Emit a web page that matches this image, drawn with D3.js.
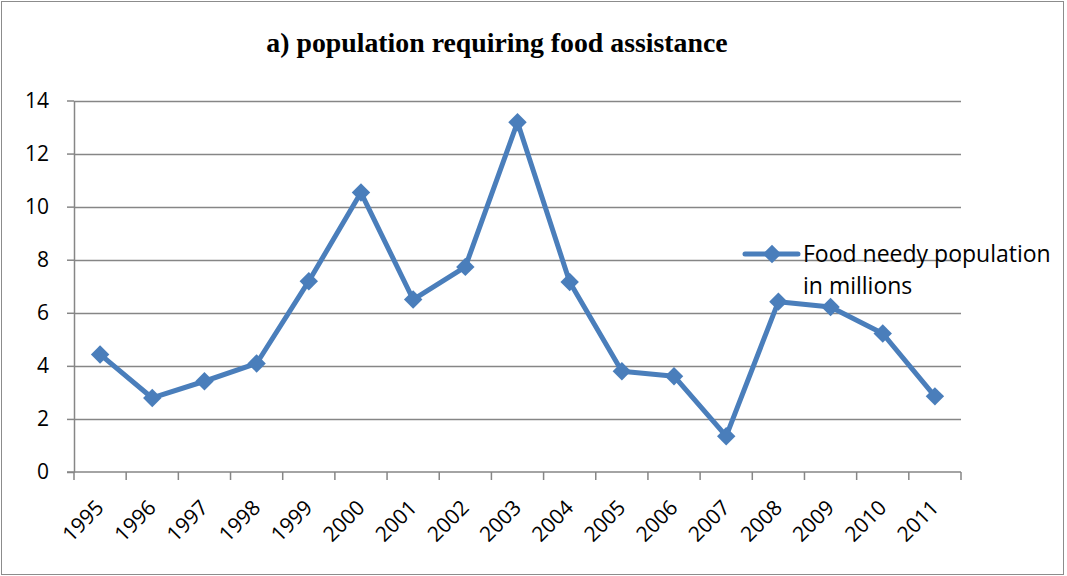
<!DOCTYPE html>
<html>
<head>
<meta charset="utf-8">
<script src="https://cdn.jsdelivr.net/npm/d3@7"></script>
<style>
  html, body { margin: 0; padding: 0; background: #fff; }
  svg { display: block; }
</style>
</head>
<body>
<svg id="chart" width="1067" height="576"></svg>
<script>
// Food needy population, millions, by year
const years = ["1995","1996","1997","1998","1999","2000","2001","2002","2003",
               "2004","2005","2006","2007","2008","2009","2010","2011"];
const needy = [4.43, 2.79, 3.42, 4.09, 7.19, 10.53, 6.50, 7.73, 13.18,
               7.16, 3.80, 3.61, 1.35, 6.42, 6.22, 5.22, 2.85];
const yTicks = [0, 2, 4, 6, 8, 10, 12, 14];
const seriesName = ["Food needy population", "in millions"];
const titleText = "a) population requiring food assistance";

const svg = d3.select("#chart");
const W = 1067, H = 576;
const plot = { left: 74, right: 961, top: 100.5, bottom: 472 };
const blue = "#4A7EBB";
const axisGray = "#868686";
const labelFont = "'Open Sans', Lato, sans-serif";

// outer frame
svg.append("rect")
  .attr("x", 1.5).attr("y", 1.5)
  .attr("width", W - 5).attr("height", H - 3)
  .attr("fill", "#fff").attr("stroke", "#8c8c8c").attr("stroke-width", 1);

const x = d3.scaleBand().domain(years).range([plot.left, plot.right]);
const y = d3.scaleLinear().domain([0, 14]).range([plot.bottom, plot.top]);

// horizontal gridlines
svg.append("g")
  .selectAll("line")
  .data(yTicks.filter(d => d > 0))
  .join("line")
  .attr("x1", plot.left).attr("x2", plot.right)
  .attr("y1", d => Math.round(y(d)) + 0.5).attr("y2", d => Math.round(y(d)) + 0.5)
  .attr("stroke", axisGray).attr("stroke-width", 1.5);

// y axis
const yAxis = svg.append("g")
  .attr("transform", `translate(${plot.left},0)`)
  .call(d3.axisLeft(y).tickValues(yTicks).tickSize(7).tickPadding(18).tickSizeOuter(0));
yAxis.select(".domain").attr("stroke", axisGray).attr("stroke-width", 1.5);
yAxis.selectAll(".tick line").attr("stroke", axisGray).attr("stroke-width", 1.5);
yAxis.selectAll(".tick text")
  .attr("fill", "#000").style("font-family", labelFont).style("font-size", "21px");

// x axis with ticks at category boundaries
const xAxisG = svg.append("g").attr("transform", `translate(0,${plot.bottom})`);
xAxisG.append("line")
  .attr("x1", plot.left - 7).attr("x2", plot.right)
  .attr("y1", 0).attr("y2", 0)
  .attr("stroke", axisGray).attr("stroke-width", 1.5);
const bounds = years.map(d => x(d)).concat([plot.right]);
xAxisG.selectAll("line.tk")
  .data(bounds)
  .join("line").attr("class", "tk")
  .attr("x1", d => d).attr("x2", d => d)
  .attr("y1", 0).attr("y2", 8)
  .attr("stroke", axisGray).attr("stroke-width", 1.5);
xAxisG.selectAll("text")
  .data(years)
  .join("text")
  .attr("transform", d => `translate(${x(d) + x.bandwidth() / 2 + 5},${37}) rotate(-45)`)
  .attr("text-anchor", "end")
  .style("font-family", labelFont).style("font-size", "21px")
  .attr("fill", "#000")
  .text(d => d);

// series line
const line = d3.line()
  .x((d, i) => x(years[i]) + x.bandwidth() / 2)
  .y(d => y(d));
svg.append("path")
  .datum(needy)
  .attr("d", line)
  .attr("fill", "none").attr("stroke", blue)
  .attr("stroke-width", 5).attr("stroke-linejoin", "round");

// diamond markers
const diamond = d3.symbol().type(d3.symbolSquare).size(170);
svg.append("g")
  .selectAll("path")
  .data(needy)
  .join("path")
  .attr("d", diamond)
  .attr("transform", (d, i) => `translate(${x(years[i]) + x.bandwidth() / 2},${y(d)}) rotate(45)`)
  .attr("fill", blue);

// legend
const lg = svg.append("g").attr("transform", "translate(745,254)");
lg.append("line").attr("x1", 0).attr("x2", 53).attr("y1", 0).attr("y2", 0)
  .attr("stroke", blue).attr("stroke-width", 5).attr("stroke-linecap", "round");
lg.append("path").attr("d", diamond).attr("transform", "translate(27,0) rotate(45)").attr("fill", blue);
lg.selectAll("text")
  .data(seriesName)
  .join("text")
  .attr("x", 58).attr("y", (d, i) => 8 + i * 31.5)
  .style("font-family", labelFont).style("font-size", "23px")
  .attr("fill", "#000")
  .text(d => d);

// title
svg.append("text")
  .attr("x", 497).attr("y", 52)
  .attr("text-anchor", "middle")
  .style("font-family", "'Liberation Serif', 'Times New Roman', serif")
  .style("font-weight", "bold").style("font-size", "27.8px")
  .attr("fill", "#000")
  .text(titleText);
</script>
</body>
</html>
